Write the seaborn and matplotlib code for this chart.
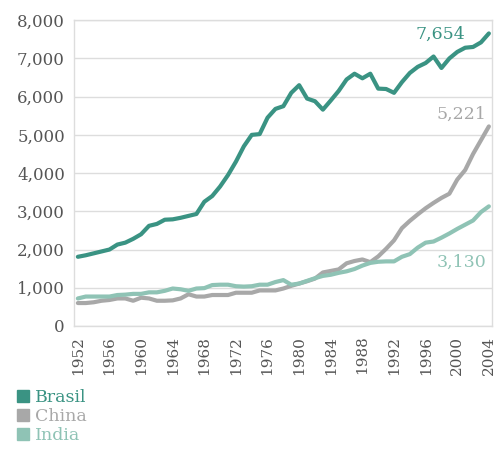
import numpy as np
import pandas as pd
import matplotlib
matplotlib.use("Agg")
import matplotlib.pyplot as plt
import seaborn as sns
from matplotlib.lines import Line2D
from matplotlib.ticker import FuncFormatter

# Data
years = list(range(1952, 2005))
brasil = [1810, 1850, 1900, 1950, 2000, 2130, 2180, 2280, 2400, 2620,
          2670, 2780, 2790, 2830, 2880, 2930, 3250, 3400, 3650, 3950,
          4300, 4700, 5000, 5020, 5450, 5680, 5750, 6100, 6300, 5950,
          5880, 5660, 5900, 6150, 6450, 6600, 6480, 6600, 6210, 6200,
          6100, 6380, 6620, 6780, 6880, 7050, 6750, 7000, 7170, 7280,
          7300, 7420, 7654]
china = [600, 600, 620, 660, 680, 720, 720, 660, 740, 720,
         660, 660, 670, 720, 830, 770, 770, 810, 810, 810,
         870, 870, 870, 930, 930, 930, 980, 1050, 1110, 1170,
         1240, 1400, 1440, 1480, 1640, 1700, 1740, 1670, 1820, 2020,
         2240, 2560, 2750, 2920, 3080, 3220, 3350, 3460, 3830, 4080,
         4500, 4860, 5221]
india = [720, 770, 770, 770, 770, 810, 820, 840, 840, 880,
         880, 920, 980, 960, 920, 980, 990, 1070, 1080, 1080,
         1040, 1030, 1040, 1080, 1080, 1150, 1200, 1080, 1110, 1180,
         1250, 1310, 1340, 1390, 1430, 1490, 1580, 1650, 1680, 1690,
         1690, 1810, 1880, 2050, 2180, 2210, 2310, 2420, 2540, 2650,
         2760, 2980, 3130]
countries = ["Brasil", "China", "India"]
colors = {"Brasil": "#3a9383", "China": "#a8a8a8", "India": "#8fc3b5"}
xticks = list(range(1952, 2005, 4))

df = pd.DataFrame({
    "year": years * 3,
    "value": brasil + china + india,
    "country": ["Brasil"] * len(years) + ["China"] * len(years) + ["India"] * len(years),
})

sns.set_theme(style="white")
plt.rcParams["font.family"] = ["DejaVu Serif"]

fig = plt.figure(figsize=(4.96, 4.49), dpi=100)
ax = fig.add_axes([0.149, 0.274, 0.843, 0.681])

sns.lineplot(data=df, x="year", y="value", hue="country", palette=colors,
             linewidth=3, legend=False, ax=ax)

ax.set_xlim(1951.5, 2004.4)
ax.set_ylim(0, 8000)
ax.set_xticks(xticks)
ax.set_xticklabels([str(y) for y in xticks], rotation=90,
                   fontsize=11, color="#555555")
ax.set_yticks(range(0, 8001, 1000))
ax.yaxis.set_major_formatter(FuncFormatter(lambda v, p: f"{int(v):,}"))
ax.tick_params(axis="x", length=0, pad=7)
ax.tick_params(axis="y", length=0, pad=6.5, labelsize=12, colors="#555555")
ax.set_xlabel("")
ax.set_ylabel("")
ax.grid(axis="y", color="#dddddd", linewidth=1)
ax.set_axisbelow(True)
for s in ax.spines.values():
    s.set_color("#dddddd")
    s.set_linewidth(1)

# end-value labels
series = {"Brasil": brasil, "China": china, "India": india}
offsets = {"Brasil": (-17, -1), "China": (-1.5, 8.5), "India": (-1.5, -40)}
for c in countries:
    val = series[c][-1]
    ax.annotate(f"{val:,}", xy=(years[-1], val), xytext=offsets[c],
                textcoords="offset points", ha="right", va="center",
                color=colors[c], fontsize=12.5)

handles = [Line2D([], [], linestyle="none", marker="s", markersize=8,
                  color=colors[c], label=c) for c in countries]
fig.legend(handles=handles, loc="upper left", bbox_to_anchor=(0.015, 0.153),
           frameon=False, fontsize=12.5, handletextpad=0.3, labelspacing=0.12,
           handlelength=0.8, labelcolor="markerfacecolor", borderpad=0)

fig.savefig("out.png", dpi=100)
